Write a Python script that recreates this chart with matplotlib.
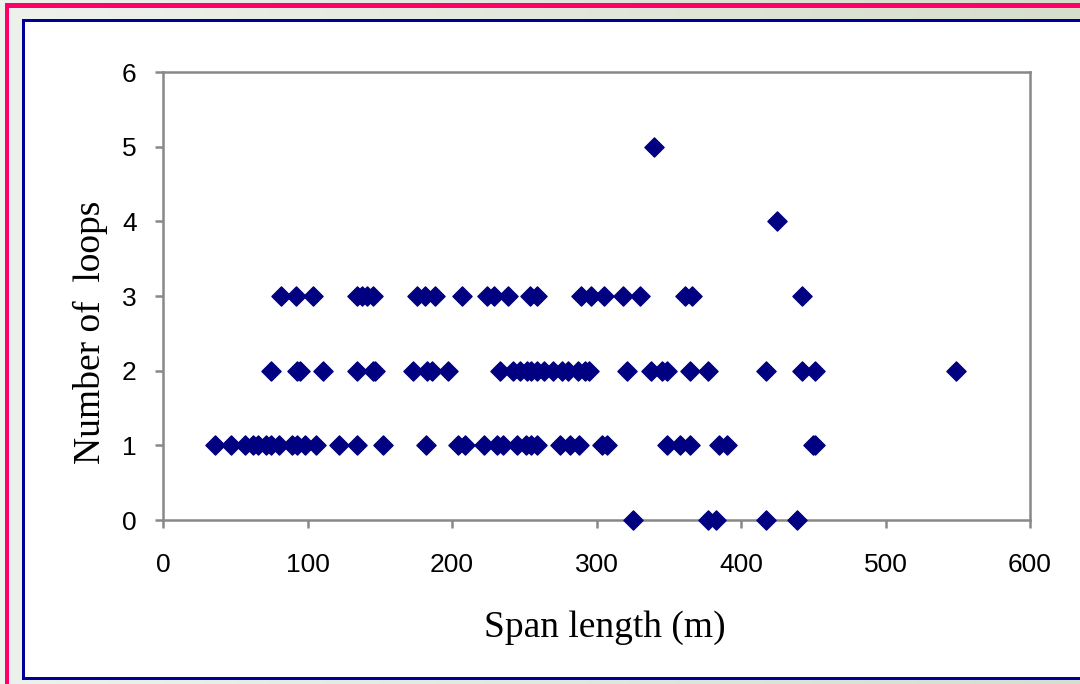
import numpy as np
import matplotlib.pyplot as plt
from matplotlib.patches import Rectangle

# span length (m) for each loop count
span_0 = [325, 377, 383, 417, 439]
span_1 = [36, 47, 57, 62, 66, 71, 75, 80, 89, 93, 98, 106, 122, 134, 152,
          182, 204, 209, 222, 231, 235, 245, 251, 255, 259, 275, 282, 288,
          304, 307, 349, 358, 365, 385, 390, 450, 451]
span_2 = [75, 93, 95, 111, 134, 145, 147, 173, 183, 186, 197, 233, 242, 247,
          252, 255, 259, 264, 270, 276, 280, 287, 292, 295, 321, 338, 345,
          349, 365, 377, 417, 442, 451, 549]
span_3 = [82, 92, 104, 134, 138, 141, 145, 176, 181, 188, 207, 224, 229,
          239, 254, 259, 289, 296, 305, 318, 330, 361, 366, 442]
span_4 = [425]
span_5 = [340]

spans = [span_0, span_1, span_2, span_3, span_4, span_5]
x = []
y = []
for n, s in enumerate(spans):
    x += s
    y += [n] * len(s)

fig = plt.figure(figsize=(10.8, 6.84), dpi=100)

# background frame (gradient + pink border + blue box)
bg = fig.add_axes([0, 0, 1, 1], zorder=-1)
bg.set_xlim(0, 1080)
bg.set_ylim(684, 0)
bg.axis("off")
grad = np.linspace(0, 1, 256)[None, :, None]
c1 = np.array([238, 242, 236]) / 255
c2 = np.array([214, 222, 204]) / 255
img = c1 * (1 - grad) + c2 * grad
bg.imshow(img, extent=[0, 1080, 684, 0], aspect="auto")
bg.add_patch(Rectangle((5, 3), 1080, 5, color="#ff0066", lw=0))
bg.add_patch(Rectangle((5, 3), 4, 690, color="#ff0066", lw=0))
bg.add_patch(Rectangle((22, 19), 1070, 661, color="#000099", lw=0))
bg.add_patch(Rectangle((25, 22), 1070, 655, color="white", lw=0))

ax = fig.add_axes([163 / 1080, 1 - 520 / 684, 867 / 1080, 448 / 684])
ax.scatter(x, y, marker="D", s=95, color="#000080", zorder=3, clip_on=False)

ax.set_xlim(0, 600)
ax.set_ylim(0, 6)
ax.set_xticks(range(0, 601, 100))
ax.set_yticks(range(0, 7))

for sp in ax.spines.values():
    sp.set_color("#888888")
    sp.set_linewidth(1.8)
ax.tick_params(direction="out", length=6, width=1.8, color="#888888",
               labelsize=19)
ax.tick_params(axis="x", pad=18)
ax.tick_params(axis="y", pad=13)
for lab in ax.get_xticklabels() + ax.get_yticklabels():
    lab.set_fontfamily("Liberation Sans")

ax.set_xlabel("Span length (m)", fontsize=27, fontfamily="Liberation Serif",
              labelpad=24)
ax.set_ylabel("Number of  loops", fontsize=27, fontfamily="Liberation Serif",
              labelpad=10)
ax.xaxis.label.set_x(0.51)
ax.yaxis.label.set_y(0.42)

plt.savefig("out.png", dpi=100)
